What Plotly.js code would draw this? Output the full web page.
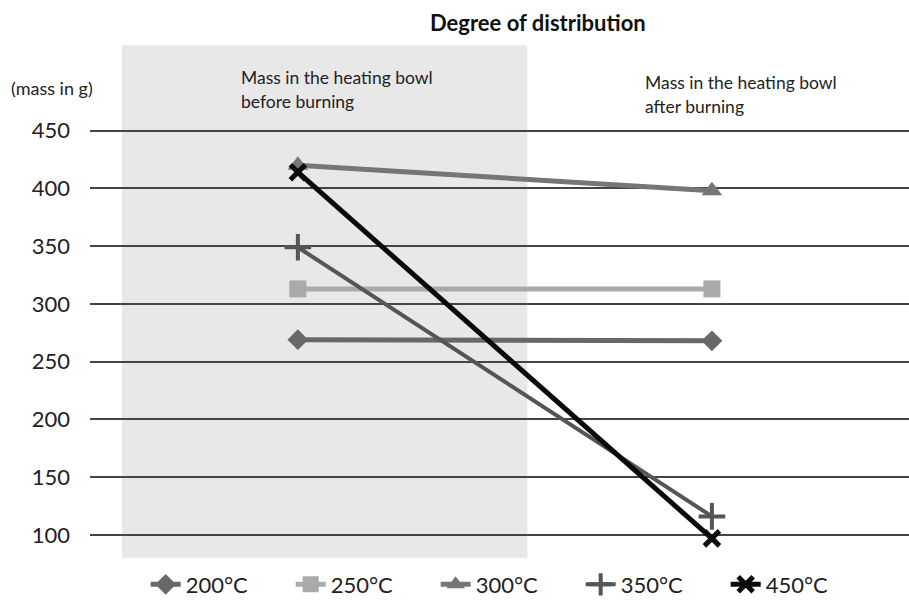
<!DOCTYPE html>
<html>
<head>
<meta charset="utf-8">
<script src="https://cdn.plot.ly/plotly-3.0.1.min.js"></script>
<style>
  html, body { margin: 0; padding: 0; background: #ffffff; }
  #chart { width: 909px; height: 609px; }
</style>
</head>
<body>
<div id="chart"></div>
<script>
// Mass in the heating bowl (g) before and after burning, per temperature
const stages = ["before", "after"];
const series200 = [269, 268];
const series250 = [313, 313];
const series300 = [420, 398];
const series350 = [349, 116];
const series450 = [414, 97];
const seriesNames = ["200°C", "250°C", "300°C", "350°C", "450°C"];
const yTicks = [100, 150, 200, 250, 300, 350, 400, 450];

const FONT = "Lato, 'Open Sans', sans-serif";

function lineTrace(name, values, color, width, marker) {
  return {
    type: "scatter",
    mode: "lines+markers",
    name: name,
    x: stages,
    y: values,
    line: { color: color, width: width },
    marker: marker,
    cliponaxis: false
  };
}

const traces = [
  lineTrace(seriesNames[0], series200, "#686868", 5,
    { symbol: "diamond", size: 16, color: "#686868" }),
  lineTrace(seriesNames[1], series250, "#aaaaaa", 5,
    { symbol: "square", size: 17, color: "#aaaaaa" }),
  lineTrace(seriesNames[2], series300, "#767676", 5,
    { symbol: "triangle-up", size: 18, color: "#767676" }),
  lineTrace(seriesNames[3], series350, "#555555", 4,
    { symbol: "cross-thin", size: 19, color: "#555555", line: { color: "#555555", width: 4 } }),
  lineTrace(seriesNames[4], series450, "#0a0a0a", 5,
    { symbol: "x-thin", size: 15, color: "#0a0a0a", line: { color: "#0a0a0a", width: 5 } })
];

// one annotation per text line, positioned in paper units
function label(text, x, y, size) {
  return {
    text: text,
    xref: "paper", yref: "paper",
    x: x, y: y,
    xanchor: "left", yanchor: "middle",
    showarrow: false,
    font: { size: size, color: "#222222", family: FONT }
  };
}

const layout = {
  width: 909,
  height: 609,
  margin: { l: 90, r: 0, t: 96, b: 51 },
  paper_bgcolor: "#ffffff",
  plot_bgcolor: "rgba(0,0,0,0)",
  font: { family: FONT, color: "#222222" },
  showlegend: true,
  legend: {
    orientation: "h",
    x: 0.068, xanchor: "left",
    y: -0.012, yanchor: "top",
    font: { size: 22, color: "#222222", family: FONT },
    entrywidth: 100,
    entrywidthmode: "pixels",
    traceorder: "normal"
  },
  xaxis: {
    type: "category",
    range: [-0.502, 1.476],
    showticklabels: false,
    showgrid: false,
    zeroline: false,
    showline: false,
    fixedrange: true
  },
  yaxis: {
    range: [80, 480],
    tickvals: yTicks,
    ticktext: yTicks.map(String),
    showgrid: true,
    gridcolor: "#444444",
    gridwidth: 2,
    zeroline: false,
    showline: false,
    ticks: "",
    ticklabelstandoff: 19,
    tickfont: { size: 22, color: "#222222", family: FONT },
    fixedrange: true
  },
  shapes: [
    {
      type: "rect",
      xref: "paper", yref: "paper",
      x0: 0.039, x1: 0.534,
      y0: 0, y1: 1.11,
      fillcolor: "#e8e8e8",
      line: { width: 0 },
      layer: "below"
    }
  ],
  annotations: [
    {
      text: "<b>Degree of distribution</b>",
      xref: "paper", yref: "paper",
      x: 0.547, y: 1.16,
      xanchor: "center", yanchor: "middle",
      showarrow: false,
      font: { size: 22, color: "#111111", family: FONT }
    },
    label("(mass in g)", -0.099, 1.017, 18),
    label("Mass in the heating bowl", 0.182, 1.041, 17.5),
    label("before burning", 0.182, 0.989, 17.5),
    label("Mass in the heating bowl", 0.675, 1.030, 17.5),
    label("after burning", 0.675, 0.978, 17.5)
  ]
};

Plotly.newPlot("chart", traces, layout, { displayModeBar: false, staticPlot: true });
</script>
</body>
</html>
